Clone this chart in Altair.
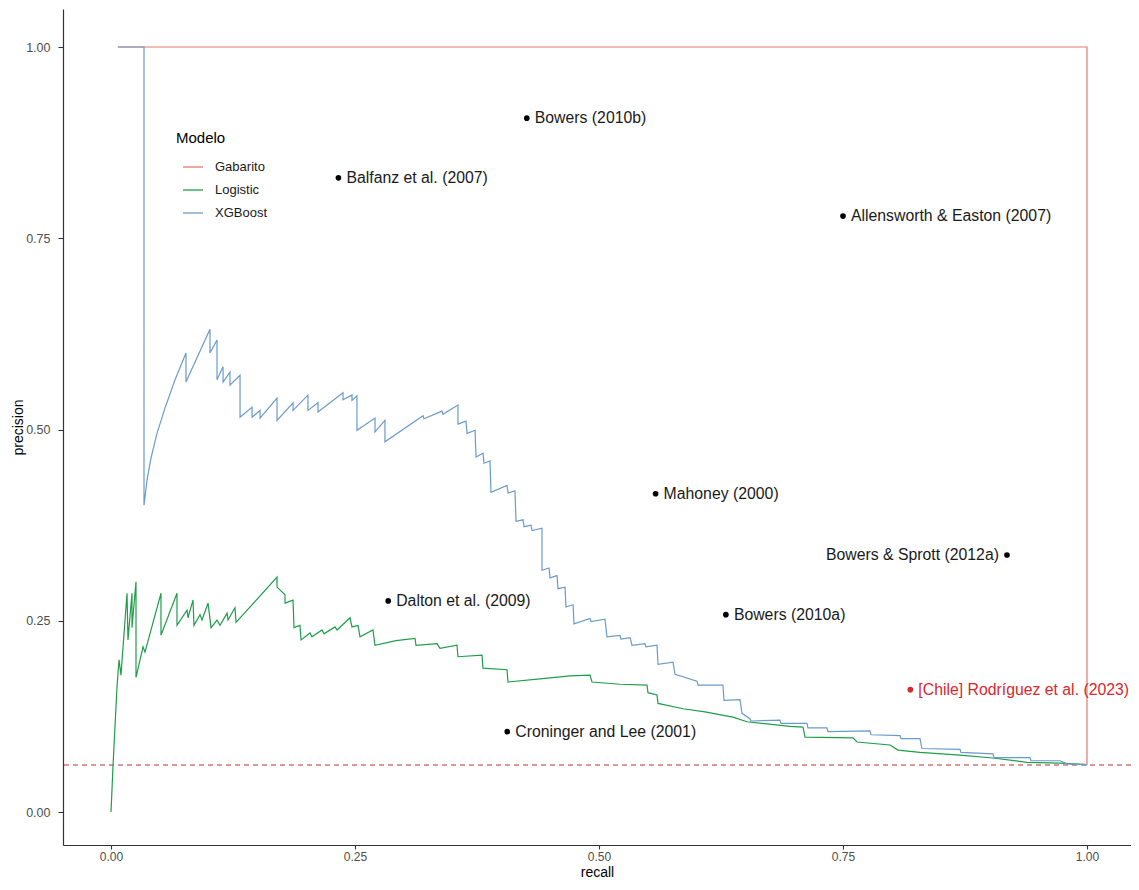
import altair as alt
import pandas as pd

# ---------------- data ----------------
xgb_recall = [0.007, 0.0338, 0.0338, 0.0369, 0.0410, 0.0471, 0.0553, 0.0656, 0.0768, 0.0768,
              0.1014, 0.1014, 0.1086, 0.1086, 0.1148, 0.1148, 0.1219, 0.1219, 0.1322, 0.1322,
              0.1445, 0.1445, 0.1527, 0.1527, 0.1701, 0.1701, 0.1865, 0.1865, 0.2018, 0.2018,
              0.2121, 0.2121, 0.2377, 0.2377, 0.2469, 0.2469, 0.2520, 0.2520, 0.2705, 0.2705,
              0.2807, 0.2807, 0.3197, 0.3207, 0.3391, 0.3401, 0.3555, 0.3555, 0.3637, 0.3648,
              0.3730, 0.3740, 0.3811, 0.3822, 0.3883, 0.3893, 0.4057, 0.4068, 0.4139, 0.4150,
              0.4222, 0.4232, 0.4304, 0.4314, 0.4416, 0.4416, 0.4488, 0.4498, 0.4570, 0.4580,
              0.4652, 0.4662, 0.4734, 0.4744, 0.4908, 0.4918, 0.5061, 0.5082, 0.5215, 0.5225,
              0.5318, 0.5338, 0.5471, 0.5481, 0.5594, 0.5605, 0.5758, 0.5779, 0.6004, 0.6014,
              0.6270, 0.6281, 0.6445, 0.6465, 0.6547, 0.6557, 0.6855, 0.6865, 0.7131, 0.7141,
              0.7336, 0.7346, 0.7777, 0.7787, 0.8084, 0.8094, 0.8289, 0.8309, 0.8699, 0.8709,
              0.9037, 0.9047, 0.9416, 0.9426, 0.9723, 0.9795, 1.0]
xgb_precision = [1.0, 1.0, 0.401, 0.434, 0.463, 0.495, 0.528, 0.565, 0.600, 0.562,
                 0.631, 0.600, 0.617, 0.565, 0.582, 0.562, 0.575, 0.558, 0.571, 0.516,
                 0.529, 0.516, 0.525, 0.515, 0.541, 0.512, 0.535, 0.525, 0.545, 0.525,
                 0.535, 0.523, 0.548, 0.539, 0.545, 0.538, 0.544, 0.499, 0.515, 0.497,
                 0.512, 0.484, 0.518, 0.514, 0.524, 0.520, 0.532, 0.507, 0.511, 0.495,
                 0.499, 0.464, 0.469, 0.456, 0.459, 0.418, 0.427, 0.417, 0.420, 0.380,
                 0.382, 0.373, 0.375, 0.368, 0.371, 0.316, 0.319, 0.306, 0.309, 0.292,
                 0.294, 0.268, 0.271, 0.246, 0.253, 0.249, 0.252, 0.229, 0.231, 0.226,
                 0.228, 0.218, 0.220, 0.216, 0.218, 0.193, 0.196, 0.180, 0.171, 0.166,
                 0.166, 0.146, 0.147, 0.129, 0.122, 0.119, 0.120, 0.116, 0.116, 0.110,
                 0.110, 0.105, 0.106, 0.101, 0.100, 0.096, 0.096, 0.083, 0.082, 0.078,
                 0.076, 0.071, 0.071, 0.067, 0.067, 0.063, 0.062]

log_recall = [0.0, 0.0020, 0.0061, 0.0082, 0.0102, 0.0164, 0.0174, 0.0215, 0.0215, 0.0256,
              0.0256, 0.0328, 0.0348, 0.0512, 0.0512, 0.0676, 0.0676, 0.0779, 0.0789, 0.0840,
              0.0850, 0.0912, 0.0932, 0.0994, 0.1025, 0.1086, 0.1117, 0.1189, 0.1199, 0.1270,
              0.1281, 0.1701, 0.1701, 0.1783, 0.1783, 0.1865, 0.1875, 0.1936, 0.1947, 0.2039,
              0.2059, 0.2162, 0.2182, 0.2295, 0.2316, 0.2449, 0.2469, 0.2531, 0.2551, 0.2684,
              0.2705, 0.2920, 0.3115, 0.3125, 0.3340, 0.3371, 0.3545, 0.3555, 0.3801, 0.3811,
              0.4057, 0.4068, 0.4395, 0.4703, 0.4908, 0.4928, 0.5215, 0.5492, 0.5502, 0.5594,
              0.5605, 0.5861, 0.6086, 0.6373, 0.6516, 0.6957, 0.7090, 0.7111, 0.7602, 0.7643,
              0.7982, 0.8064, 0.8289, 0.8699, 0.9037, 0.9385, 0.9723, 1.0]
log_precision = [0.0, 0.059, 0.163, 0.199, 0.179, 0.286, 0.225, 0.286, 0.241, 0.301,
                 0.176, 0.216, 0.209, 0.286, 0.231, 0.286, 0.244, 0.264, 0.254, 0.277,
                 0.244, 0.258, 0.251, 0.273, 0.241, 0.251, 0.244, 0.260, 0.251, 0.267,
                 0.248, 0.307, 0.294, 0.284, 0.273, 0.277, 0.241, 0.244, 0.225, 0.234,
                 0.229, 0.238, 0.233, 0.242, 0.238, 0.254, 0.242, 0.244, 0.229, 0.238,
                 0.218, 0.224, 0.227, 0.218, 0.220, 0.214, 0.218, 0.203, 0.205, 0.188,
                 0.186, 0.170, 0.174, 0.178, 0.179, 0.170, 0.167, 0.166, 0.156, 0.153,
                 0.142, 0.135, 0.131, 0.124, 0.118, 0.112, 0.111, 0.098, 0.097, 0.0915,
                 0.0876, 0.081, 0.078, 0.0745, 0.0706, 0.065, 0.064, 0.062]

gab_recall = [0.007, 1.0, 1.0]
gab_precision = [1.0, 1.0, 0.0614]

baseline_precision = 0.0614

study_names = ["Bowers (2010b)", "Balfanz et al. (2007)", "Allensworth & Easton (2007)",
               "Mahoney (2000)", "Bowers & Sprott (2012a)", "Dalton et al. (2009)",
               "Bowers (2010a)", "[Chile] Rodríguez et al. (2023)", "Croninger and Lee (2001)"]
study_recall = [0.426, 0.233, 0.750, 0.558, 0.918, 0.284, 0.630, 0.819, 0.406]
study_precision = [0.907, 0.829, 0.779, 0.416, 0.336, 0.276, 0.258, 0.160, 0.105]

model_names = ["Gabarito", "Logistic", "XGBoost"]
model_colors = ["#E8776F", "#1E9E4A", "#6A9BC9"]

# ---------------- tables ----------------
rows = []
for name, rs, ps in [("Gabarito", gab_recall, gab_precision),
                     ("Logistic", log_recall, log_precision),
                     ("XGBoost", xgb_recall, xgb_precision)]:
    for i, (r, p) in enumerate(zip(rs, ps)):
        rows.append({"Modelo": name, "recall": r, "precision": p, "ordem": i})
curves = pd.DataFrame(rows)

studies = pd.DataFrame({"name": study_names, "recall": study_recall,
                        "precision": study_precision})
studies["chile"] = studies["name"].str.startswith("[Chile]")
studies["right_side"] = studies["name"] == "Bowers & Sprott (2012a)"

FONT = "Liberation Sans"
ticks = [0, 0.25, 0.5, 0.75, 1.0]

x_scale = alt.Scale(domain=[-0.0492, 1.0451], nice=False, zero=False)
y_scale = alt.Scale(domain=[-0.0431, 1.0497], nice=False, zero=False)

axis_common = dict(values=ticks, format=".2f", grid=False, domainColor="#333333",
                   domainWidth=1.2, tickColor="#333333", tickWidth=1.1,
                   labelColor="#4D4D4D", labelFont=FONT,
                   titleFont=FONT, titleFontSize=14, titleFontWeight="normal",
                   titleColor="#000000")

x_enc = alt.X("recall:Q", scale=x_scale,
              axis=alt.Axis(title="recall", tickSize=4, labelFontSize=12, labelPadding=2,
                            titlePadding=3, **axis_common))
y_enc = alt.Y("precision:Q", scale=y_scale,
              axis=alt.Axis(title="precision", tickSize=5, labelFontSize=12.5, labelPadding=8,
                            titlePadding=0, **axis_common))

lines = alt.Chart(curves).mark_line(strokeWidth=1.2).encode(
    x=x_enc,
    y=y_enc,
    color=alt.Color("Modelo:N",
                    scale=alt.Scale(domain=model_names, range=model_colors),
                    legend=alt.Legend(title="Modelo", orient="none", legendX=113, legendY=122,
                                      titleFontSize=15, titleFontWeight="normal",
                                      titleColor="#000000", titleFont=FONT,
                                      labelFont=FONT, labelFontSize=13, labelColor="#1A1A1A",
                                      symbolType="stroke", symbolSize=400,
                                      symbolStrokeWidth=1.3, rowPadding=5, titlePadding=10,
                                      labelOffset=11, symbolOffset=6, padding=0)),
    order="ordem:Q",
)

base_rule = alt.Chart(pd.DataFrame({"precision": [baseline_precision]})).mark_rule(
    color="#B5342C", strokeDash=[5, 4], strokeWidth=1.1
).encode(y=alt.Y("precision:Q", scale=y_scale))

points = alt.Chart(studies).mark_circle(size=32, opacity=1).encode(
    x=alt.X("recall:Q", scale=x_scale),
    y=alt.Y("precision:Q", scale=y_scale),
    color=alt.condition("datum.chile", alt.value("#D9272E"), alt.value("#000000")),
)

labels_right = alt.Chart(studies).transform_filter("!datum.right_side").mark_text(
    align="left", baseline="middle", dx=8, fontSize=15.8, font=FONT
).encode(
    x=alt.X("recall:Q", scale=x_scale),
    y=alt.Y("precision:Q", scale=y_scale),
    text="name:N",
    color=alt.condition("datum.chile", alt.value("#D9272E"), alt.value("#1A1A1A")),
)

labels_left = alt.Chart(studies).transform_filter("datum.right_side").mark_text(
    align="right", baseline="middle", dx=-8, fontSize=15.8, font=FONT, color="#1A1A1A"
).encode(
    x=alt.X("recall:Q", scale=x_scale),
    y=alt.Y("precision:Q", scale=y_scale),
    text="name:N",
)

chart = alt.layer(base_rule, lines, points, labels_right, labels_left).properties(
    width=1068, height=836,
    padding={"left": 55, "top": 1, "right": 0, "bottom": 37},
    autosize="none",
    background="white",
).configure(font=FONT).configure_view(stroke=None)

chart.save("out.html", embed_options={"renderer": "svg", "actions": False})
